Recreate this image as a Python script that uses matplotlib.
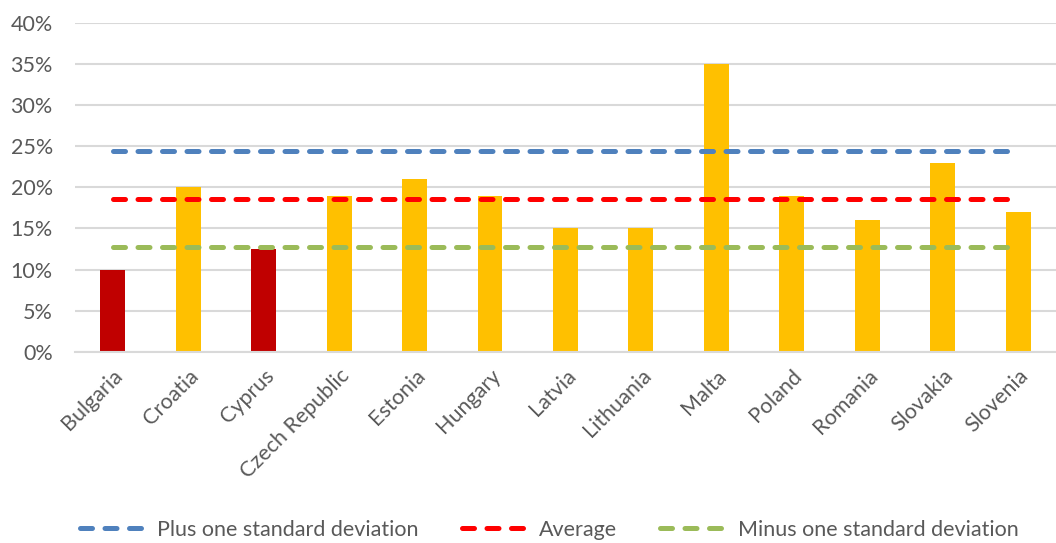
import numpy as np
import matplotlib
matplotlib.use("Agg")
import matplotlib.pyplot as plt
from matplotlib.lines import Line2D
from matplotlib.ticker import PercentFormatter, MultipleLocator

countries = ["Bulgaria", "Croatia", "Cyprus", "Czech Republic", "Estonia", "Hungary",
             "Latvia", "Lithuania", "Malta", "Poland", "Romania", "Slovakia", "Slovenia"]
share = [10, 20, 12.5, 19, 21, 19, 15, 15, 35, 19, 16, 23, 17]
highlight = ["Bulgaria", "Cyprus"]

YELLOW = "#ffc000"
DARK_RED = "#c00000"
BLUE = "#4f81bd"
RED = "#ff0000"
GREEN = "#9bbb59"
TEXT = "#595959"
GRID = "#d9d9d9"

plt.rcParams["font.family"] = ["Lato", "DejaVu Sans"]

vals = np.array(share, dtype=float)
avg = vals.mean()
sd = vals.std()
x = np.arange(len(countries))

fig = plt.figure(figsize=(10.56, 5.43), dpi=100)
ax = fig.add_axes([0.071, 0.352, 0.929, 0.606])

colors = [DARK_RED if c in highlight else YELLOW for c in countries]
ax.bar(x, vals, width=0.33, color=colors, zorder=2)

dash_kw = dict(linewidth=3.6, dashes=(2.4, 2.5), dash_capstyle="round", zorder=3)
ax.plot(x, np.full(len(x), avg + sd), color=BLUE, **dash_kw)
ax.plot(x, np.full(len(x), avg), color=RED, **dash_kw)
ax.plot(x, np.full(len(x), avg - sd), color=GREEN, **dash_kw)

ax.set_xlim(-0.5, len(x) - 0.5)
ax.set_ylim(0, 40)
ax.yaxis.set_major_locator(MultipleLocator(5))
ax.yaxis.set_major_formatter(PercentFormatter(decimals=0))
ax.grid(axis="y", color=GRID, linewidth=1.5, zorder=0)
for s in ["top", "right", "left"]:
    ax.spines[s].set_visible(False)
ax.spines["bottom"].set_color(GRID)
ax.spines["bottom"].set_linewidth(1.5)

ax.set_xticks(x)
ax.set_xticklabels(countries, rotation=45, ha="right", rotation_mode="anchor")
ax.tick_params(axis="both", length=0, labelsize=15.5, labelcolor=TEXT)
ax.tick_params(axis="x", pad=10)
ax.tick_params(axis="y", pad=16)

handles = [Line2D([], [], color=c, **{k: v for k, v in dash_kw.items() if k != "zorder"})
           for c in (BLUE, RED, GREEN)]
labels = ["Plus one standard deviation", "Average", "Minus one standard deviation"]
fig.legend(handles, labels, loc="center", bbox_to_anchor=(0.52, 0.024), ncol=3,
           frameon=False, fontsize=15.5, labelcolor=TEXT, handlelength=3.0,
           columnspacing=2.0, handletextpad=0.6)

fig.savefig("out.png", dpi=100)
